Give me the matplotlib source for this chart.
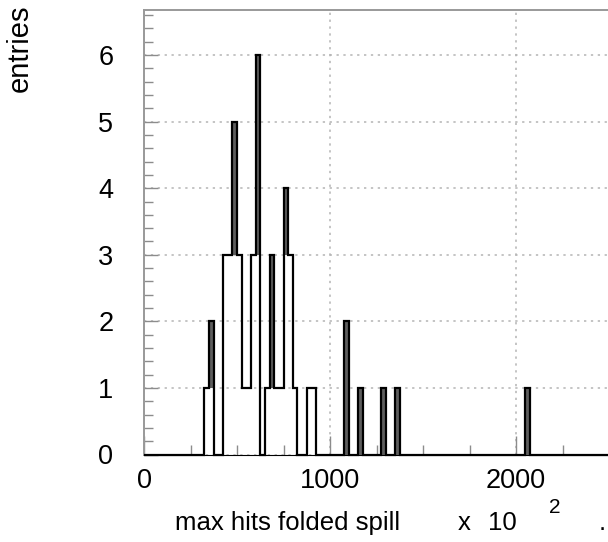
import matplotlib
matplotlib.use("Agg")
import matplotlib.pyplot as plt
import numpy as np
from matplotlib.ticker import MultipleLocator

# histogram: 100 bins of 25 (x 10^2 hits) from 0 to 2500
bin_width = 25
n_bins = 100
# non-empty bins: lower edge -> entries
filled_edges = [325, 350, 425, 450, 475, 500, 525, 550, 575, 600,
                650, 675, 700, 725, 750, 775, 800, 875, 900,
                1075, 1150, 1275, 1350, 2050]
filled_counts = [1, 2, 3, 3, 5, 3, 1, 1, 3, 6,
                 1, 3, 1, 1, 4, 3, 1, 1, 1,
                 2, 1, 1, 1, 1]

edges = np.arange(n_bins + 1) * bin_width
counts = np.zeros(n_bins)
for lo, c in zip(filled_edges, filled_counts):
    counts[lo // bin_width] = c

plt.rcParams["font.family"] = ["Liberation Sans", "DejaVu Sans"]

fig = plt.figure(figsize=(6.08, 5.42), dpi=100)
ax = fig.add_axes([144 / 608, 87.5 / 542, 465 / 608, 445 / 542])

# single-bin spikes look shaded in the original rendering (above the neighbours)
padded = np.concatenate([[0], counts, [0]])
neigh = np.maximum(padded[:-2], padded[2:])
spike = counts > neigh
ax.bar(edges[:-1][spike], (counts - neigh)[spike], bottom=neigh[spike],
       width=bin_width, align="edge", color="#5e5e5e", linewidth=0, zorder=2)
ax.stairs(counts, edges, color="black", linewidth=1.6, baseline=0,
          zorder=3, clip_on=False)

ax.set_xlim(0, 2500)
ax.set_ylim(0, 6.684)
ax.xaxis.set_major_locator(MultipleLocator(1000))
ax.xaxis.set_minor_locator(MultipleLocator(250))
ax.yaxis.set_major_locator(MultipleLocator(1))
ax.yaxis.set_minor_locator(MultipleLocator(0.2))

ax.grid(True, which="major", color="#b4b4b4", linestyle=(0, (1.5, 3)), linewidth=1.1)
ax.set_axisbelow(True)

ax.tick_params(axis="x", which="major", direction="in", length=14, width=1,
               color="#8c8c8c", labelsize=19.5, pad=10)
ax.tick_params(axis="x", which="minor", direction="in", length=7.5, width=1, color="#8c8c8c")
ax.tick_params(axis="y", which="major", direction="in", length=10, width=1,
               color="#8c8c8c", labelsize=19.5, pad=22)
ax.tick_params(axis="y", which="minor", direction="in", length=6.5, width=1, color="#8c8c8c")

for side in ["left", "top", "right"]:
    ax.spines[side].set_color("#999999")
    ax.spines[side].set_linewidth(1.4)
ax.spines["bottom"].set_color("black")

fig.text(20 / 608, 1 - 5 / 542, "entries", rotation=90, ha="center", va="top", fontsize=21)
fig.text(175 / 608, 1 - 530 / 542, "max hits folded spill", ha="left", va="baseline", fontsize=18.5)
fig.text(458 / 608, 1 - 530 / 542, "x", ha="left", va="baseline", fontsize=18.5)
fig.text(488 / 608, 1 - 530 / 542, "10", ha="left", va="baseline", fontsize=18.5)
fig.text(549 / 608, 1 - 513 / 542, "2", ha="left", va="baseline", fontsize=15)
fig.text(599 / 608, 1 - 530 / 542, ".", ha="left", va="baseline", fontsize=18.5)

fig.savefig("out.png", dpi=100)
plt.close(fig)
